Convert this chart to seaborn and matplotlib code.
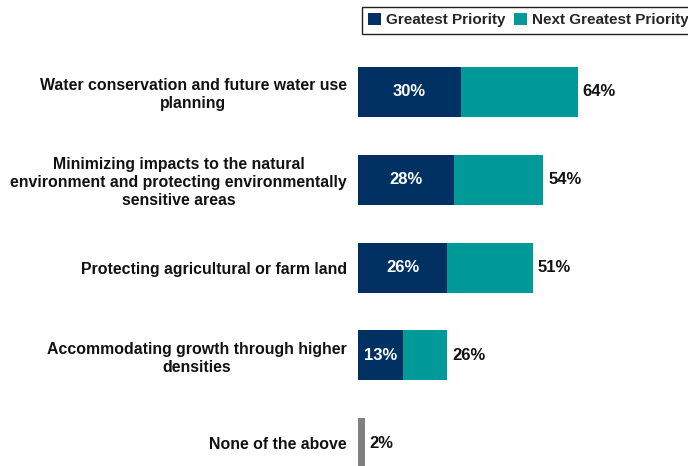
import matplotlib
matplotlib.use("Agg")
import matplotlib.pyplot as plt
from matplotlib.patches import Patch
import seaborn as sns
import pandas as pd

# Survey results: share naming each item as a priority
categories = [
    "Water conservation and future water use\nplanning",
    "Minimizing impacts to the natural\nenvironment and protecting environmentally\nsensitive areas",
    "Protecting agricultural or farm land",
    "Accommodating growth through higher\ndensities",
    "None of the above",
]
greatest = [30, 28, 26, 13, 0]
combined = [64, 54, 51, 26, 2]
series_names = ["Greatest Priority", "Next Greatest Priority"]

NAVY = "#003162"
TEAL = "#009A98"
GRAY = "#808080"

sns.set_theme(style="white")
plt.rcParams["font.family"] = ["Liberation Sans", "DejaVu Sans"]
plt.rcParams["font.weight"] = "bold"

df = pd.DataFrame({"item": categories, "greatest": greatest, "combined": combined})

fig = plt.figure(figsize=(6.88, 4.66), dpi=100)
ax = fig.add_axes([358 / 688, 0, 330 / 688, 418 / 466])

bar_w = 0.57
total_colors = [TEAL] * 4 + [GRAY]
sns.barplot(data=df, x="combined", y="item", hue="item", palette=total_colors,
            order=categories, hue_order=categories, legend=False,
            width=bar_w, saturation=1, linewidth=0, ax=ax, orient="h")
sns.barplot(data=df.iloc[:4], x="greatest", y="item", color=NAVY,
            order=categories, width=bar_w, saturation=1, linewidth=0,
            ax=ax, orient="h")

ax.set_xlim(0, 330 / 3.43)
ax.set_ylim(4.26, -0.5)
ax.set_xlabel("")
ax.set_ylabel("")
ax.set_xticks([])
for s in ax.spines.values():
    s.set_visible(False)

ax.tick_params(axis="y", length=0, pad=8)
ax.set_yticks(range(len(categories)))
ax.set_yticklabels(categories, fontsize=11.4, fontweight="bold", color="#111111")
for lbl in ax.get_yticklabels():
    lbl.set_multialignment("center")
    lbl.set_linespacing(1.25)

for i, (g, c) in enumerate(zip(greatest, combined)):
    if g > 0:
        ax.text(g / 2, i, f"{g}%", ha="center", va="center", color="white",
                fontsize=12, fontweight="bold")
    ax.annotate(f"{c}%", xy=(c, i), xytext=(3.5, 0), textcoords="offset points",
                ha="left", va="center", color="#111111", fontsize=12,
                fontweight="bold")

handles = [Patch(facecolor=NAVY, edgecolor="none"),
           Patch(facecolor=TEAL, edgecolor="none")]
leg = fig.legend(handles, series_names, loc="upper left",
                 bbox_to_anchor=(362 / 688, 1 - 7 / 466), ncol=2,
                 fontsize=11, frameon=True, fancybox=False, framealpha=1,
                 edgecolor="#222222", handlelength=0.85, handleheight=0.85,
                 handletextpad=0.3, columnspacing=0.6, borderpad=0.4,
                 borderaxespad=0)
leg.get_frame().set_linewidth(1.0)
for t in leg.get_texts():
    t.set_fontweight("bold")

fig.savefig("out.png", dpi=100)
